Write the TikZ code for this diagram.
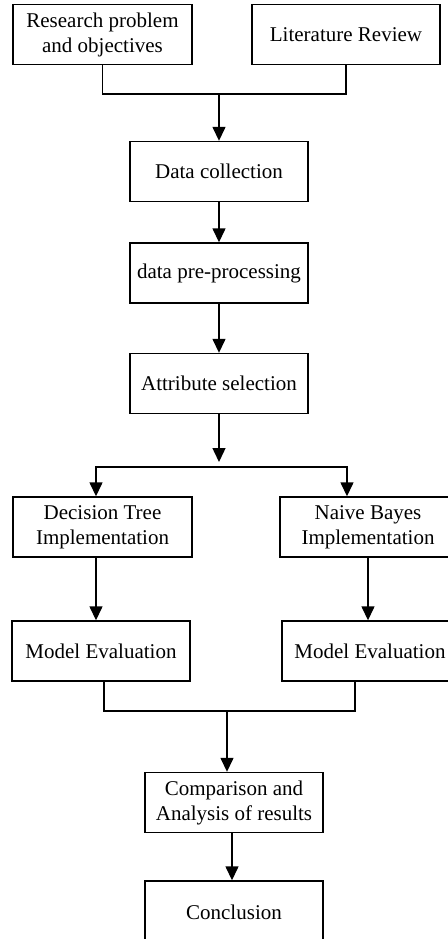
\documentclass[tikz,border=0pt]{standalone}
\usepackage{fontspec}
\setmainfont{Liberation Serif}
\usepackage{tikz}
\usetikzlibrary{arrows.meta, positioning, calc}

\tikzset{
  stage/.style={draw, line width=0.7pt, align=center, inner sep=0pt,
                minimum width=89pt, minimum height=30pt,
                font=\fontsize{10.5}{12.5}\selectfont},
  link/.style={line width=0.7pt},
  flow/.style={link, -{Triangle[width=6.5pt, length=7pt]}}
}

\begin{document}
\begin{tikzpicture}[x=0.5pt, y=-0.5pt]
        \clip (0,0) rectangle (448,939);
        % top inputs
        \node[stage, minimum width=89.5pt] (res) at (102.5,34.5)
             {Research problem\\and objectives};
        \node[stage, minimum width=94pt]   (lit) at (346,34.5)
             {Literature Review};
        % main chain
        \node[stage] (data) at (219,171.5) {Data collection};
        \node[stage] (prep) at (219,273)   {data pre-processing};
        \node[stage] (attr) at (219,383.5) {Attribute selection};
        % two classifiers
        \node[stage, minimum width=89.5pt] (dtree) at (102.5,527)
             {Decision Tree\\Implementation};
        \node[stage, minimum width=88pt]   (bayes) at (368,527)
             {Naive Bayes\\Implementation};
        \node[stage] (evalL) at (101,651) {Model Evaluation};
        \node[stage, minimum width=88pt] (evalR) at (370,651) {Model Evaluation};
        % outcome
        \node[stage] (cmp)   at (234,802.5) {Comparison and\\Analysis of results};
        \node[stage, minimum height=31pt] (concl) at (234,912) {Conclusion};

        \coordinate (join)  at (219,94);
        \coordinate (tip)   at (219,462);
        \coordinate (split) at (219,467);
        \coordinate (merge) at (227,711);

        \draw[link] (res.south) |- (join) -| (lit.south);
        \draw[flow] (join) -- (data);
        \draw[flow] (data) -- (prep);
        \draw[flow] (prep) -- (attr);
        \draw[flow] (attr) -- (tip);
        \draw[flow] (split) -| ([xshift=-3.25pt]dtree.north);
        \draw[flow] (split) -| ([xshift=-10.5pt]bayes.north);
        \draw[flow] ([xshift=-3.25pt]dtree.south) -- ([xshift=-3.25pt]dtree.south |- evalL.north);
        \draw[flow] (bayes.south) -- (bayes.south |- evalR.north);
        \draw[link] ([xshift=1.5pt]evalL.south) |- (merge) -| ([xshift=-7.5pt]evalR.south);
        \draw[flow] (merge) -- (merge |- cmp.north);
        \draw[flow] ([xshift=-1pt]cmp.south) -- ([xshift=-1pt]concl.north);
      \end{tikzpicture}
\end{document}
